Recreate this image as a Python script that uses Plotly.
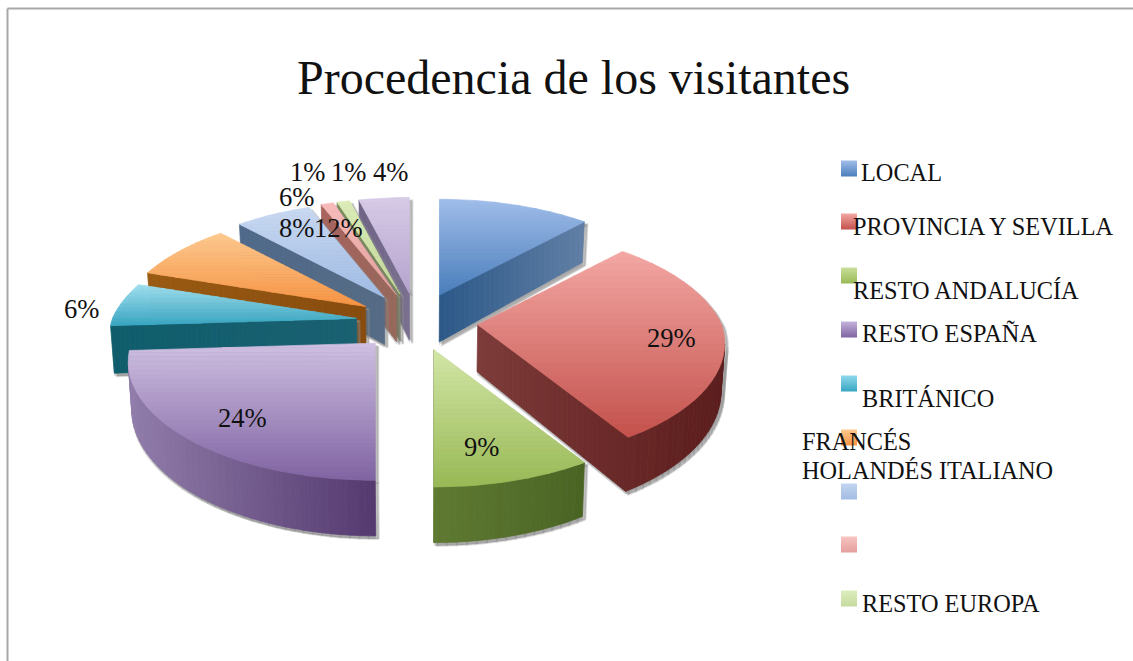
import math
import plotly.graph_objects as go

# ---- data
categories = ["LOCAL", "PROVINCIA Y SEVILLA", "RESTO ANDALUCÍA", "RESTO ESPAÑA", "BRITÁNICO",
              "FRANCÉS", "HOLANDÉS", "ITALIANO", "RESTO EUROPA", "OTROS"]
values = [12, 29, 9, 24, 6, 8, 6, 1, 1, 4]

top_light = ["#a0bdea", "#f3a7a3", "#d3e6a6", "#cfc0e2", "#a0e0f0", "#fdc98f", "#c9d9f2", "#f7bcba", "#dbecb8", "#d7cbe6"]
top_dark = ["#4a7ebb", "#c4514c", "#98b955", "#8063a2", "#38a6c2", "#f79443", "#a0bbe4", "#e49f9d", "#c2d99a", "#b6a4cf"]
wall_left = ["#2b5888", "#7d3b39", "#5f7a32", "#917dab", "#0f5d6c", "#9a5a12", "#4f6a8a", "#a8635d", "#7a8a50", "#6f6485"]
wall_right = ["#617fa5", "#5b1c1c", "#4a6424", "#54396f", "#1a6172", "#874c0e", "#566b85", "#96685c", "#75805a", "#7a7090"]

legend_top = ["#a0bdea", "#f3a7a3", "#c9e09a", "#c3b2da", "#8fd8ec", "#fdc98f", "#c3d5f0", "#f8c4c2", "#dcedbd"]
legend_bot = ["#4a7ebb", "#c4514c", "#98b955", "#8063a2", "#38a6c2", "#f79443", "#a3bce2", "#e49f9d", "#c6da9f"]

# ---- layout of the text, in pixels of the page
pct_xy = [(338, 228), (671, 338), (481, 447), (242, 418), (81, 309),
          (296, 228), (296, 197), (307, 172), (348, 172), (390, 172)]
legend_square_y = [168.5, 221.5, 275.5, 329.5, 383.5, 437.5, 491.5, 544.5, 598.5]
legend_text = [("LOCAL", 861, 172), ("PROVINCIA Y SEVILLA", 853, 226), ("RESTO ANDALUCÍA", 853, 290),
               ("RESTO ESPAÑA", 862, 333), ("BRITÁNICO", 862, 398), ("FRANCÉS", 802, 441),
               ("HOLANDÉS ITALIANO", 802, 470), ("RESTO EUROPA", 862, 603)]

# ---- projection of the tilted pie
CX, CY = 417, 322
EX, EY = 61, 29
R, K, DEPTH = 244, 0.475, 47
P_BACK, P_FRONT, INWARD = 0.21, 0.155, 0.012
FONT = "Liberation Serif"


def hex_rgb(c):
    return tuple(int(c[i:i + 2], 16) for i in (1, 3, 5))


def mix(a, b, t):
    t = max(0, min(1, t))
    ra, rb = hex_rgb(a), hex_rgb(b)
    return "#%02x%02x%02x" % tuple(round(ra[i] + (rb[i] - ra[i]) * t) for i in range(3))


def clip(poly, axis, lim, keep_above):
    out = []
    for i, p in enumerate(poly):
        q = poly[(i + 1) % len(poly)]
        inp = p[axis] >= lim if keep_above else p[axis] <= lim
        inq = q[axis] >= lim if keep_above else q[axis] <= lim
        if inp:
            out.append(p)
        if inp != inq:
            t = (lim - p[axis]) / (q[axis] - p[axis])
            out.append((p[0] + (q[0] - p[0]) * t, p[1] + (q[1] - p[1]) * t))
    return out


def banded(fig, poly, axis, c0, c1, n, name):
    vals = [p[axis] for p in poly]
    lo, hi = min(vals), max(vals)
    if hi - lo < 0.01:
        return
    for i in range(n):
        a = lo + (hi - lo) * i / n
        b = lo + (hi - lo) * (i + 1) / n
        part = clip(poly, axis, a, True)
        if part:
            part = clip(part, axis, b, False)
        if len(part) < 3:
            continue
        col = mix(c0, c1, (i + 0.5) / n)
        fig.add_trace(go.Scatter(
            x=[p[0] for p in part] + [part[0][0]], y=[p[1] for p in part] + [part[0][1]],
            mode="lines", fill="toself", fillcolor=col, line=dict(color=col, width=0.7),
            hoverinfo="skip", showlegend=False, name=name))


def scale(c):
    return 1 / (1 + (P_BACK if c > 0 else P_FRONT) * c)


def build_slice(start, end):
    mid = (start + end) / 2
    ox = CX + EX * math.sin(mid)
    oy = CY - EY * math.cos(mid)
    steps = max(3, int((end - start) * 30))
    pts = [(ox, oy)]
    deps = [DEPTH]
    for i in range(steps + 1):
        th = start + (end - start) * i / steps
        s = scale(math.cos(th))
        pts.append((ox + R * math.sin(th) * s, oy - R * K * math.cos(th) * s))
        deps.append(DEPTH * s)
    return pts, deps, mid


def lower(p, d):
    return (p[0] - (p[0] - CX) * INWARD, p[1] + d)


fig = go.Figure()

total = sum(values)
cum = 0
slices = []
for i, v in enumerate(values):
    a = 2 * math.pi * cum / total
    cum += v
    b = 2 * math.pi * cum / total
    pts, deps, mid = build_slice(a, b)
    slices.append((math.cos(mid), i, pts, deps))

for _, i, pts, deps in sorted(slices, key=lambda s: -s[0]):
    walls = []
    n = len(pts)
    for j in range(n):
        k = (j + 1) % n
        if pts[k][0] - pts[j][0] < 0:
            walls.append([pts[j], pts[k], lower(pts[k], deps[k]), lower(pts[j], deps[j])])
    # soft shadow under the whole solid
    sx, sy = [], []
    for poly in [pts] + walls:
        area = sum(poly[q][0] * poly[(q + 1) % len(poly)][1] - poly[(q + 1) % len(poly)][0] * poly[q][1]
                   for q in range(len(poly)))
        seq = poly if area > 0 else poly[::-1]
        sx += [p[0] + 3 for p in seq] + [seq[0][0] + 3, None]
        sy += [p[1] + 3 for p in seq] + [seq[0][1] + 3, None]
    fig.add_trace(go.Scatter(x=sx, y=sy, mode="lines", fill="toself", fillcolor="rgba(110,110,110,0.45)",
                             line=dict(color="rgba(150,150,150,0.35)", width=2), hoverinfo="skip", showlegend=False))
    sx = [(x - 3 if x is not None else None) for x in sx]
    fig.add_trace(go.Scatter(x=sx, y=sy, mode="lines", fill="toself", fillcolor="rgba(120,120,120,0.30)",
                             line=dict(width=0), hoverinfo="skip", showlegend=False))
    # walls share one continuous left-to-right shade
    xs = [p[0] for w in walls for p in w]
    lo, hi = (min(xs), max(xs)) if xs else (0, 1)
    for poly in walls:
        px = [p[0] for p in poly]
        c0 = mix(wall_left[i], wall_right[i], (min(px) - lo) / max(hi - lo, 1))
        c1 = mix(wall_left[i], wall_right[i], (max(px) - lo) / max(hi - lo, 1))
        banded(fig, poly, 0, c0, c1, max(1, int((max(px) - min(px)) / 5)), categories[i])
    banded(fig, pts, 1, top_light[i], top_dark[i], 30, categories[i])

# legend squares
fig.add_trace(go.Scatter(
    x=[849] * len(legend_square_y), y=legend_square_y, mode="markers", hoverinfo="skip", showlegend=False,
    marker=dict(symbol="square", size=16, color=legend_top, line=dict(width=0),
                gradient=dict(type="vertical", color=legend_bot))))

ann = []
for (x, y), v in zip(pct_xy, values):
    ann.append(dict(x=x, y=y, xref="x", yref="y", text=f"{v}%", showarrow=False,
                    xanchor="center", yanchor="middle", font=dict(family=FONT, size=26.6, color="#111111")))
for t, x, y in legend_text:
    ann.append(dict(x=x, y=y, xref="x", yref="y", text=t, showarrow=False,
                    xanchor="left", yanchor="middle", xshift=-2, font=dict(family=FONT, size=24.3, color="#111111")))
ann.append(dict(x=573, y=77, xref="x", yref="y", text="Procedencia de los visitantes", showarrow=False,
                xanchor="center", yanchor="middle", font=dict(family=FONT, size=48, color="#111111")))

frame = dict(type="line", xref="x", yref="y", line=dict(color="#a8a8a8", width=2))
fig.update_layout(
    width=1133, height=661, margin=dict(l=0, r=0, t=0, b=0),
    paper_bgcolor="white", plot_bgcolor="white", showlegend=False,
    xaxis=dict(range=[0, 1133], visible=False, fixedrange=True),
    yaxis=dict(range=[661, 0], visible=False, fixedrange=True),
    annotations=ann,
    shapes=[dict(frame, x0=7.5, y0=8.5, x1=1133, y1=8.5), dict(frame, x0=7.5, y0=8.5, x1=7.5, y1=661)],
)
fig.write_html("out.html", config={"displayModeBar": False},
               post_script="document.body.style.margin='0';document.documentElement.style.overflow='hidden';")
